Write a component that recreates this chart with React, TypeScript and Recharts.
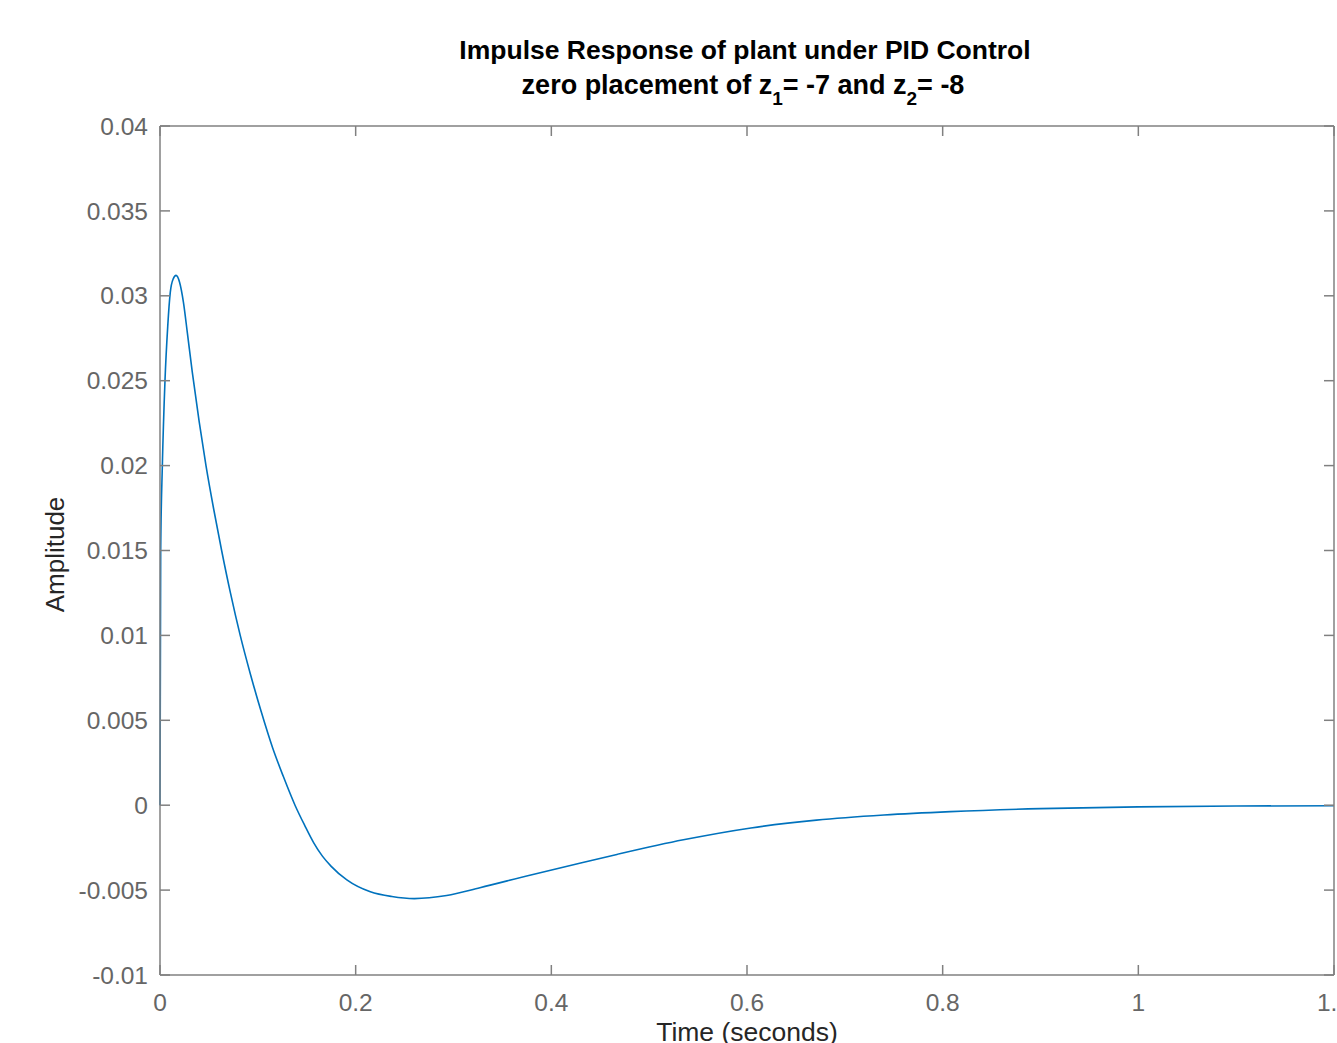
import { Line, LineChart, XAxis, YAxis } from 'recharts'

// impulse response (time in seconds, amplitude)
const timeValues = [
  0, 0.0007, 0.0024, 0.0051, 0.0079, 0.0105, 0.0135, 0.0164, 0.02, 0.024, 0.028,
  0.033, 0.04, 0.047, 0.055, 0.063, 0.072, 0.082, 0.0925, 0.1035, 0.115, 0.126,
  0.138, 0.148, 0.157, 0.166, 0.175, 0.191, 0.215, 0.237, 0.26, 0.293, 0.327,
  0.378, 0.43, 0.467, 0.535, 0.604, 0.671, 0.74, 0.808, 0.9, 1.0, 1.1, 1.2,
]
const amplitudeValues = [
  0, 0.015, 0.02, 0.025, 0.0282, 0.0302, 0.031, 0.0312, 0.0308, 0.0296, 0.0278,
  0.0255, 0.0226, 0.02, 0.0174, 0.015, 0.0125, 0.01, 0.0077, 0.0055, 0.0034, 0.0017,
  0, -0.0012, -0.0022, -0.003, -0.0036, -0.0044, -0.0051, -0.00538, -0.0055, -0.00532, -0.00486,
  -0.00412, -0.0034, -0.0029, -0.00204, -0.00134, -0.00088, -0.00058, -0.00038, -0.0002, -0.0001, -0.00005, -0.00003,
]
const timeTicks = [0, 0.2, 0.4, 0.6, 0.8, 1, 1.2]
const amplitudeTicks = [-0.01, -0.005, 0, 0.005, 0.01, 0.015, 0.02, 0.025, 0.03, 0.035, 0.04]

const data = timeValues.map((t, i) => ({ t, amplitude: amplitudeValues[i] }))

const AXIS = '#808080'
const TICK_TEXT = { fill: '#666666', fontSize: 24.5 }
const fmt = (v: number) => String(Number(v.toFixed(3)))
const blank = () => ''

function AmplitudeLabel(props: any) {
  const vb = props.viewBox ?? { x: 0, y: 126, width: 160, height: 849 }
  const cx = vb.x + 64
  const cy = vb.y + vb.height / 2 + 4
  return (
    <text x={cx} y={cy} transform={`rotate(-90 ${cx} ${cy})`} textAnchor="middle" fontSize={26} fill="#262626">
      Amplitude
    </text>
  )
}

export default function App() {
  return (
    <div
      style={{
        position: 'fixed',
        left: 0,
        top: 0,
        width: 1337,
        height: 1043,
        overflow: 'hidden',
        background: '#ffffff',
        fontFamily: '"Liberation Sans", Arial, sans-serif',
      }}
    >
      <LineChart width={1380} height={1043} data={data} margin={{ top: 125, right: 45, bottom: 0, left: 0 }}>
        <XAxis
          dataKey="t"
          type="number"
          domain={[0, 1.2]}
          ticks={timeTicks}
          interval={0}
          height={68}
          tickSize={-10}
          tickMargin={29}
          tickFormatter={fmt}
          tick={TICK_TEXT}
          axisLine={{ stroke: AXIS, strokeWidth: 1.5 }}
          tickLine={{ stroke: AXIS, strokeWidth: 1.5 }}
          label={{ value: 'Time (seconds)', position: 'insideBottom', offset: 2, fontSize: 26.5, fill: '#262626' }}
        />
        {/* mirrored box edges with inward ticks, as in the MATLAB axes */}
        <XAxis
          xAxisId="top"
          orientation="top"
          dataKey="t"
          type="number"
          domain={[0, 1.2]}
          allowDataOverflow
          ticks={timeTicks}
          interval={0}
          height={1}
          tickSize={-10}
          tickFormatter={blank}
          axisLine={{ stroke: AXIS, strokeWidth: 1.5 }}
          tickLine={{ stroke: AXIS, strokeWidth: 1.5 }}
        />
        <YAxis
          type="number"
          domain={[-0.01, 0.04]}
          ticks={amplitudeTicks}
          interval={0}
          width={160}
          tickSize={-10}
          tickMargin={22}
          tickFormatter={fmt}
          tick={TICK_TEXT}
          axisLine={{ stroke: AXIS, strokeWidth: 1.5 }}
          tickLine={{ stroke: AXIS, strokeWidth: 1.5 }}
          label={AmplitudeLabel}
        />
        <YAxis
          yAxisId="right"
          orientation="right"
          type="number"
          domain={[-0.01, 0.04]}
          allowDataOverflow
          ticks={amplitudeTicks}
          interval={0}
          width={1}
          tickSize={-10}
          tickFormatter={blank}
          axisLine={{ stroke: AXIS, strokeWidth: 1.5 }}
          tickLine={{ stroke: AXIS, strokeWidth: 1.5 }}
        />
        <Line
          type="monotone"
          dataKey="amplitude"
          stroke="#0072BD"
          strokeWidth={1.6}
          dot={false}
          isAnimationActive={false}
        />
      </LineChart>
      <svg width={1337} height={120} style={{ position: 'absolute', left: 0, top: 0 }}>
        <text x={745} y={59} textAnchor="middle" fontSize={26.5} fontWeight="bold" fill="#000">
          Impulse Response of plant under PID Control
        </text>
        <text x={743} y={94} textAnchor="middle" fontSize={27} fontWeight="bold" fill="#000">
          zero placement of z
          <tspan dy={11} fontSize={19}>1</tspan>
          <tspan dy={-11}>= -7 and z</tspan>
          <tspan dy={11} fontSize={19}>2</tspan>
          <tspan dy={-11}>= -8</tspan>
        </text>
      </svg>
    </div>
  )
}
